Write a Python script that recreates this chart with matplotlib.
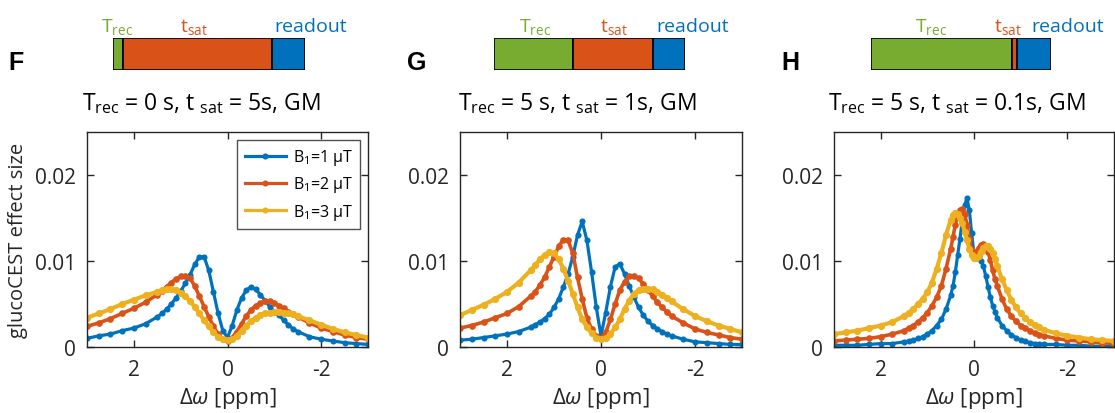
import matplotlib
matplotlib.use('Agg')
import matplotlib.pyplot as plt

plt.rcParams['font.family'] = ['Open Sans', 'DejaVu Sans']
plt.rcParams['mathtext.fontset'] = 'custom'
plt.rcParams['mathtext.rm'] = 'Open Sans'
plt.rcParams['mathtext.it'] = 'Open Sans:italic'
plt.rcParams['mathtext.bf'] = 'Open Sans:bold'

# colours (MATLAB default order)
BLUE = '#0072BD'
ORANGE = '#D95319'
YELLOW = '#EDB120'
GREEN = '#77AC30'
AXC = '#262626'

# ---------------- data ----------------
ppm_FG = [3, 2.75, 2.5, 2.25, 2, 1.75, 1.5, 1.4, 1.3, 1.2, 1.1, 1.0, 0.9, 0.8, 0.7,
          0.6, 0.5, 0.4, 0.3, 0.2, 0.1, 0,
          -0.1, -0.2, -0.3, -0.4, -0.5, -0.6, -0.7, -0.8, -0.9, -1.0, -1.1, -1.2,
          -1.3, -1.4, -1.5, -1.75, -2, -2.25, -2.5, -2.75, -3]

ppm_H = [3, 2.75, 2.5, 2.25, 2, 1.75, 1.5, 1.4, 1.3, 1.2, 1.1, 1.0, 0.9, 0.8, 0.7,
         0.6, 0.5, 0.45, 0.4, 0.35, 0.3, 0.25, 0.2, 0.15, 0.1, 0.05, 0,
         -0.05, -0.1, -0.15, -0.2, -0.25, -0.3, -0.35, -0.4, -0.45, -0.5, -0.6,
         -0.7, -0.8, -0.9, -1.0, -1.1, -1.2, -1.3, -1.4, -1.5, -1.75, -2, -2.25,
         -2.5, -2.75, -3]

# panel F: Trec = 0 s, tsat = 5 s
F_b1 = [0.0010, 0.0013, 0.0015, 0.0019, 0.0022, 0.0027, 0.0035, 0.0039, 0.0044, 0.0050,
        0.0057, 0.0065, 0.0074, 0.0084, 0.0096, 0.0105, 0.0105, 0.0089, 0.0064, 0.0039,
        0.0019, 0.0011,
        0.0025, 0.0043, 0.0057, 0.0066, 0.0070, 0.0067, 0.0061, 0.0054, 0.0047, 0.0041,
        0.0037, 0.0031, 0.0026, 0.0021, 0.0018, 0.0012, 0.0009, 0.0007, 0.0005, 0.0004,
        0.0003]
F_b2 = [0.0024, 0.0028, 0.0033, 0.0039, 0.0045, 0.0052, 0.0061, 0.0065, 0.0070, 0.0075,
        0.0079, 0.0082, 0.0083, 0.0080, 0.0071, 0.0059, 0.0047, 0.0035, 0.0024, 0.0015,
        0.0009, 0.0007,
        0.0011, 0.0018, 0.0027, 0.0036, 0.0043, 0.0048, 0.0051, 0.0053, 0.0053, 0.0051,
        0.0048, 0.0045, 0.0041, 0.0038, 0.0035, 0.0028, 0.0022, 0.0018, 0.0014, 0.0011,
        0.0009]
F_b3 = [0.0034, 0.0039, 0.0044, 0.0050, 0.0055, 0.0060, 0.0064, 0.0066, 0.0067, 0.0067,
        0.0066, 0.0063, 0.0059, 0.0053, 0.0047, 0.0039, 0.0031, 0.0024, 0.0017, 0.0012,
        0.0009, 0.0008,
        0.0009, 0.0013, 0.0019, 0.0025, 0.0030, 0.0034, 0.0037, 0.0039, 0.0040, 0.0041,
        0.0041, 0.0040, 0.0039, 0.0038, 0.0036, 0.0031, 0.0026, 0.0021, 0.0017, 0.0014,
        0.0011]

# panel G: Trec = 5 s, tsat = 1 s
G_b1 = [0.0008, 0.0009, 0.0011, 0.0013, 0.0015, 0.0018, 0.0023, 0.0026, 0.0029, 0.0033,
        0.0038, 0.0046, 0.0056, 0.0070, 0.0085, 0.0105, 0.0130, 0.0146, 0.0124, 0.0087,
        0.0046, 0.0013,
        0.0040, 0.0070, 0.0093, 0.0097, 0.0085, 0.0071, 0.0058, 0.0046, 0.0037, 0.0030,
        0.0025, 0.0021, 0.0018, 0.0015, 0.0013, 0.0009, 0.0006, 0.0005, 0.0004, 0.0003,
        0.0003]
G_b2 = [0.0022, 0.0025, 0.0029, 0.0034, 0.0039, 0.0047, 0.0059, 0.0064, 0.0072, 0.0081,
        0.0093, 0.0105, 0.0117, 0.0125, 0.0124, 0.0109, 0.0081, 0.0056, 0.0034, 0.0021,
        0.0013, 0.0010,
        0.0017, 0.0032, 0.0050, 0.0066, 0.0076, 0.0082, 0.0083, 0.0080, 0.0073, 0.0066,
        0.0059, 0.0052, 0.0046, 0.0041, 0.0036, 0.0028, 0.0021, 0.0017, 0.0014, 0.0011,
        0.0009]
G_b3 = [0.0037, 0.0043, 0.0049, 0.0056, 0.0064, 0.0075, 0.0089, 0.0095, 0.0102, 0.0107,
        0.0110, 0.0109, 0.0102, 0.0091, 0.0077, 0.0062, 0.0046, 0.0032, 0.0023, 0.0016,
        0.0011, 0.0009,
        0.0010, 0.0015, 0.0023, 0.0032, 0.0044, 0.0054, 0.0062, 0.0066, 0.0068, 0.0068,
        0.0067, 0.0064, 0.0061, 0.0057, 0.0053, 0.0044, 0.0036, 0.0030, 0.0025, 0.0021,
        0.0017]

# panel H: Trec = 5 s, tsat = 0.1 s
H_b1 = [0.0002, 0.0002, 0.0002, 0.0003, 0.0004, 0.0004, 0.0006,
        0.0007, 0.0008, 0.0010, 0.0012, 0.0015, 0.0019, 0.0025, 0.0032, 0.0044,
        0.0060, 0.0071, 0.0087, 0.0107, 0.0126, 0.0148, 0.0165, 0.0173, 0.0159, 0.0132,
        0.0108,
        0.0105, 0.0103, 0.0100, 0.0094, 0.0083, 0.0070, 0.0058, 0.0048, 0.0041, 0.0034,
        0.0025, 0.0019, 0.0014, 0.0011, 0.0008, 0.0007, 0.0005, 0.0004, 0.0004, 0.0003,
        0.0003, 0.0002, 0.0002, 0.0001, 0.0001, 0.0001]
H_b2 = [0.0007, 0.0008, 0.0009, 0.0010, 0.0012, 0.0015, 0.0019,
        0.0022, 0.0025, 0.0029, 0.0034, 0.0040, 0.0048, 0.0058, 0.0071, 0.0091,
        0.0114, 0.0128, 0.0142, 0.0154, 0.0159, 0.0160, 0.0155, 0.0142, 0.0126, 0.0113,
        0.0106,
        0.0110, 0.0115, 0.0119, 0.0120, 0.0118, 0.0111, 0.0101, 0.0089, 0.0079, 0.0071,
        0.0056, 0.0044, 0.0036, 0.0030, 0.0025, 0.0022, 0.0019, 0.0016, 0.0014, 0.0013,
        0.0010, 0.0008, 0.0007, 0.0006, 0.0005, 0.0004]
H_b3 = [0.0015, 0.0017, 0.0019, 0.0022, 0.0025, 0.0029, 0.0036,
        0.0040, 0.0044, 0.0050, 0.0056, 0.0064, 0.0075, 0.0091, 0.0109, 0.0130,
        0.0148, 0.0154, 0.0156, 0.0155, 0.0150, 0.0144, 0.0134, 0.0124, 0.0114, 0.0107,
        0.0104,
        0.0103, 0.0106, 0.0111, 0.0115, 0.0117, 0.0117, 0.0114, 0.0109, 0.0102, 0.0094,
        0.0079, 0.0066, 0.0055, 0.0046, 0.0039, 0.0034, 0.0029, 0.0026, 0.0023, 0.0020,
        0.0016, 0.0013, 0.0011, 0.0009, 0.0008, 0.0007]

b1_labels = [r'B$_{\rm 1}$=1 μT', r'B$_{\rm 1}$=2 μT', r'B$_{\rm 1}$=3 μT']
panel_letters = ['F', 'G', 'H']
titles = [r'T$_{\rm rec}$ = 0 s, t $_{\rm sat}$ = 5s, GM',
          r'T$_{\rm rec}$ = 5 s, t $_{\rm sat}$ = 1s, GM',
          r'T$_{\rm rec}$ = 5 s, t $_{\rm sat}$ = 0.1s, GM']

# timing schematic: widths of T_rec, t_sat, readout blocks (drawing units)
seg_names = [r'T$_{\rm rec}$', r't$_{\rm sat}$', 'readout']
seg_colors = [GREEN, ORANGE, BLUE]
sched = [[10, 149, 33], [79, 80, 32], [141, 5, 34]]

# ---------------- layout (pixel boxes) ----------------
W, H = 1115, 414


def box(x0, y0, x1, y1):
    return [x0 / W, 1 - y1 / H, (x1 - x0) / W, (y1 - y0) / H]


main_boxes = [(87, 133, 368, 348), (460, 133, 742, 348), (834, 133, 1114, 348)]
sched_boxes = [(113, 39, 305, 71), (494, 39, 685, 71), (871, 39, 1051, 71)]
title_x = [0.405, 0.415, 0.44]
# label x positions (fraction of schematic width) for T_rec, t_sat, readout
seg_label_x = [[0.02, 0.42, 1.03], [0.215, 0.63, 1.04], [0.335, 0.76, 1.095]]
letter_x = [8, 407, 781]

fig = plt.figure(figsize=(W / 100, H / 100), dpi=100)

series = [(ppm_FG, [F_b1, F_b2, F_b3]),
          (ppm_FG, [G_b1, G_b2, G_b3]),
          (ppm_H, [H_b1, H_b2, H_b3])]
line_colors = [BLUE, ORANGE, YELLOW]
line_w = [2.3, 2.6, 3.0]
mark_s = [4.4, 4.8, 5.2]

for i in range(3):
    ax = fig.add_axes(box(*main_boxes[i]))
    x, ys = series[i]
    for y, c, lab, lw, ms in zip(ys, line_colors, b1_labels, line_w, mark_s):
        ax.plot(x, y, '-', marker='o', color=c, lw=lw, ms=ms, mew=0, label=lab)
    ax.set_xlim(3, -3)
    ax.set_ylim(0, 0.025)
    ax.set_xticks([2, 0, -2])
    ax.set_xticklabels(['2', '0', '-2'])
    ax.set_yticks([0, 0.01, 0.02])
    ax.set_yticklabels(['0', '0.01', '0.02'])
    ax.tick_params(direction='in', top=True, right=True, length=5, width=1,
                   color=AXC, labelcolor=AXC, labelsize=15)
    ax.tick_params(axis='x', pad=9)
    ax.tick_params(axis='y', pad=8)
    for s in ax.spines.values():
        s.set_color(AXC)
        s.set_linewidth(1)
    ax.set_xlabel(r'$\Delta\omega$ [ppm]', fontsize=16, color=AXC, labelpad=3)
    if i == 0:
        ax.set_ylabel('glucoCEST effect size', fontsize=14.5, color=AXC, labelpad=5)
        leg = ax.legend(loc='upper right', fontsize=11.5, frameon=True, fancybox=False,
                        edgecolor=AXC, handlelength=2.6, borderaxespad=0.5,
                        labelspacing=0.45, borderpad=0.45, handletextpad=0.4)
        leg.get_frame().set_linewidth(1)
        for h in leg.legend_handles:
            h.set_linewidth(2.3)
            h.set_markersize(4.4)
    ax.text(title_x[i], 1.105, titles[i], transform=ax.transAxes, ha='center',
            va='baseline', fontsize=16.5, color='black')

    # timing schematic
    sa = fig.add_axes(box(*sched_boxes[i]))
    left = 0
    for w, c in zip(sched[i], seg_colors):
        sa.barh(0, w, left=left, height=1, color=c, edgecolor='black', linewidth=1.2)
        left += w
    sa.set_xlim(0, left)
    sa.set_ylim(-0.5, 0.5)
    sa.axis('off')
    for name, c, lx in zip(seg_names, seg_colors, seg_label_x[i]):
        sa.text(lx, 1.22, name, transform=sa.transAxes, ha='center', va='baseline',
                fontsize=14, color=c)

    fig.text(letter_x[i] / W, 1 - 70 / H, panel_letters[i], fontsize=18,
             fontweight='bold', family=['Liberation Sans', 'DejaVu Sans'],
             va='baseline', ha='left')

fig.savefig('out.png', dpi=100)
